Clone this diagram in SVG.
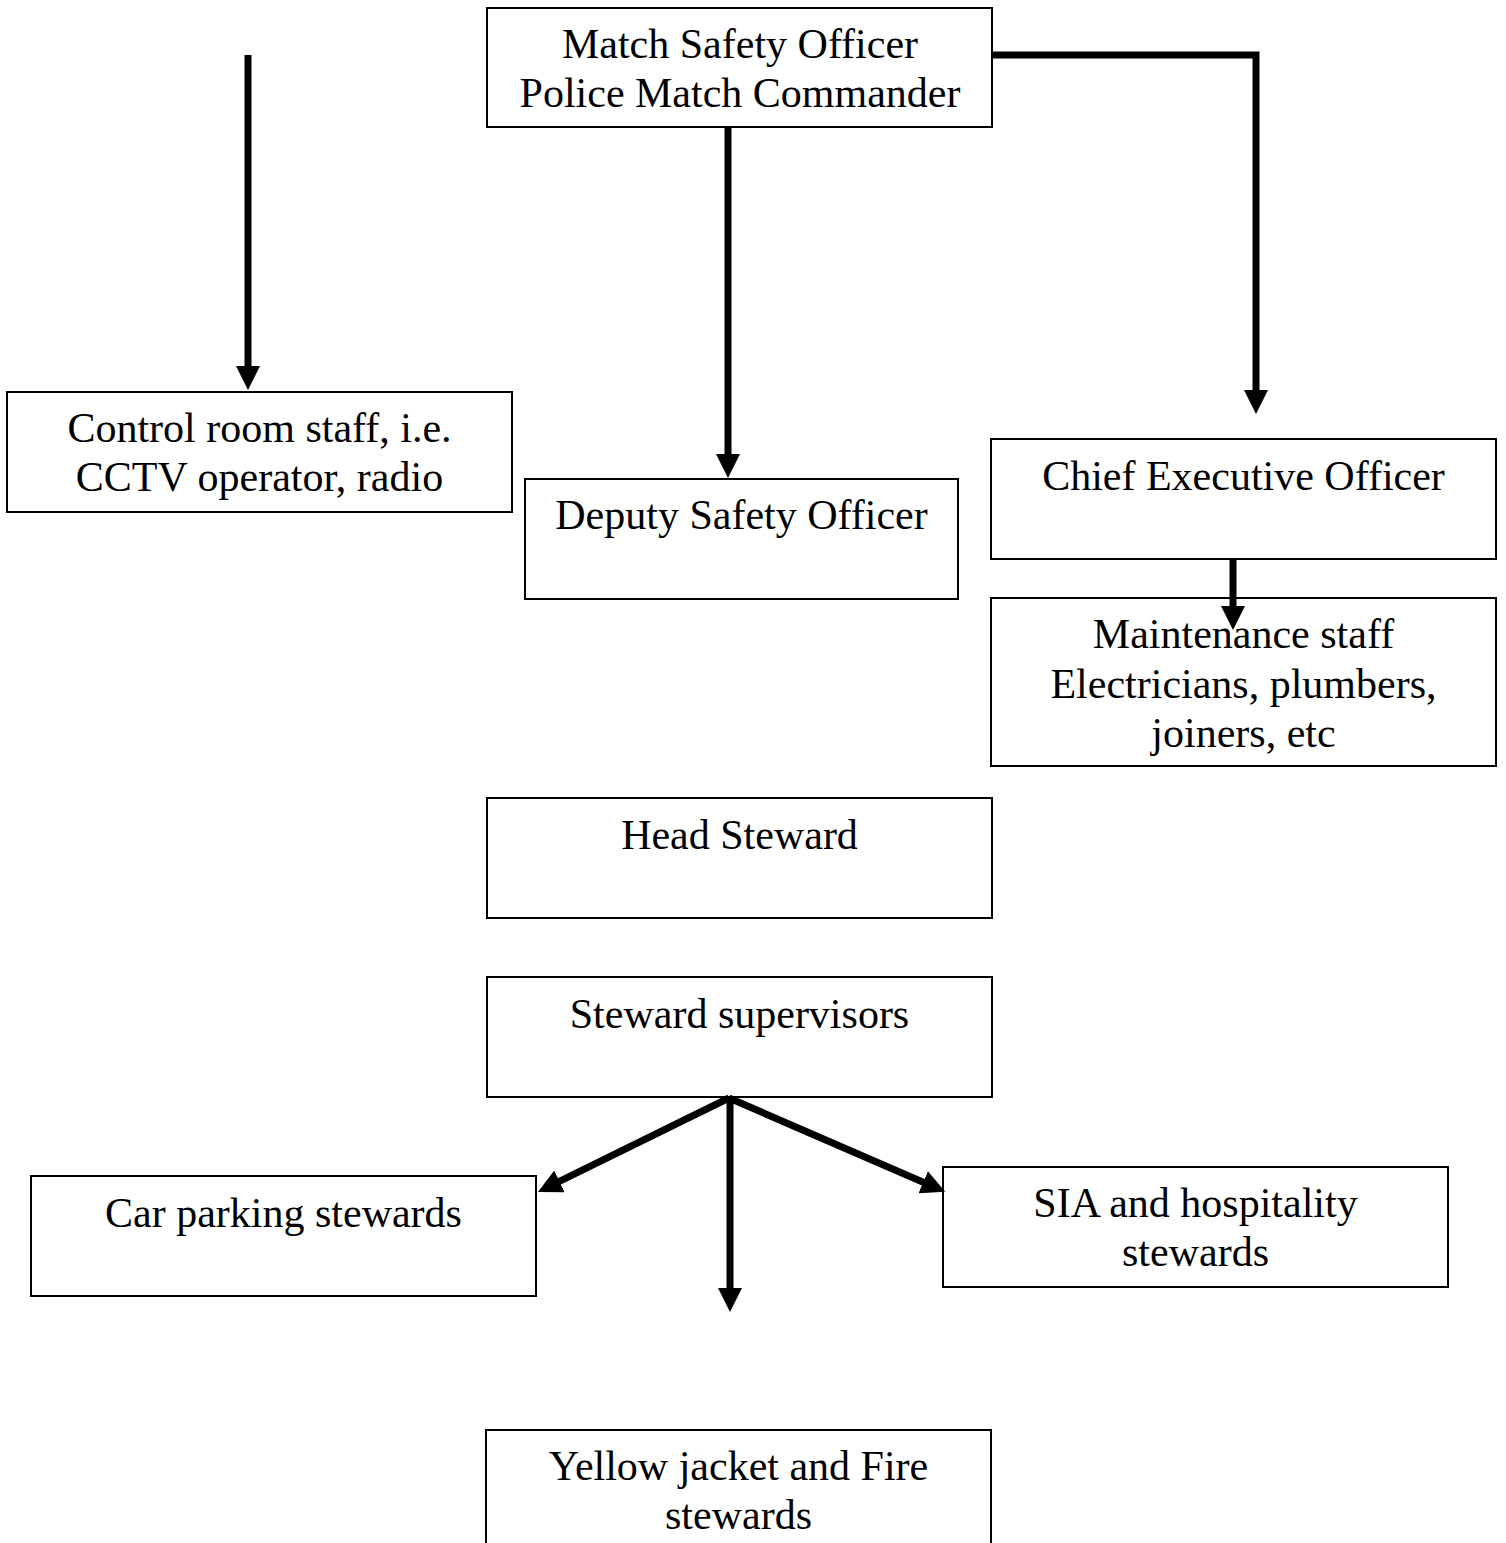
<svg xmlns="http://www.w3.org/2000/svg" width="1506" height="1543" viewBox="0 0 1506 1543">
<style>
.box{fill:#fff;stroke:#000;stroke-width:2}
.t{font-family:"Liberation Serif","Times New Roman",serif;font-size:42px;fill:#000;text-anchor:middle}
.c{fill:none;stroke:#000;stroke-width:7;marker-end:url(#ah)}
</style>
<defs>
<marker id="ah" markerUnits="userSpaceOnUse" markerWidth="24" markerHeight="24" refX="12" refY="12" orient="auto" viewBox="0 0 24 24">
<path d="M0,0 L24,12 L0,24 z" fill="#000"/>
</marker>
</defs>
<rect width="1506" height="1543" fill="#fff"/>
<g id="n-mso">
<rect class="box" x="487" y="8" width="505" height="119"/>
<text class="t" x="740" y="58">Match Safety Officer</text>
<text class="t" x="740" y="107">Police Match Commander</text>
</g>
<g id="n-control">
<rect class="box" x="7" y="392" width="505" height="120"/>
<text class="t" x="259.5" y="442">Control room staff, i.e.</text>
<text class="t" x="259.5" y="491">CCTV operator, radio</text>
</g>
<g id="n-deputy">
<rect class="box" x="525" y="479" width="433" height="120"/>
<text class="t" x="741.5" y="529">Deputy Safety Officer</text>
</g>
<g id="n-ceo">
<rect class="box" x="991" y="439" width="505" height="120"/>
<text class="t" x="1243.5" y="490">Chief Executive Officer</text>
</g>
<g id="n-maint">
<rect class="box" x="991" y="598" width="505" height="168"/>
<text class="t" x="1243.5" y="648">Maintenance staff</text>
<text class="t" x="1243.5" y="698">Electricians, plumbers,</text>
<text class="t" x="1243.5" y="747">joiners, etc</text>
</g>
<g id="n-head">
<rect class="box" x="487" y="798" width="505" height="120"/>
<text class="t" x="739.5" y="849">Head Steward</text>
</g>
<g id="n-supervisors">
<rect class="box" x="487" y="977" width="505" height="120"/>
<text class="t" x="739.5" y="1028">Steward supervisors</text>
</g>
<g id="n-car">
<rect class="box" x="31" y="1176" width="505" height="120"/>
<text class="t" x="283.5" y="1227">Car parking stewards</text>
</g>
<g id="n-sia">
<rect class="box" x="943" y="1167" width="505" height="120"/>
<text class="t" x="1195.5" y="1217">SIA and hospitality</text>
<text class="t" x="1195.5" y="1266">stewards</text>
</g>
<g id="n-yellow">
<rect class="box" x="486" y="1430" width="505" height="130"/>
<text class="t" x="738.5" y="1480">Yellow jacket and Fire</text>
<text class="t" x="738.5" y="1529">stewards</text>
</g>
<g id="connectors">
<path class="c" d="M248,55 L248,378"/>
<path class="c" d="M728,128 L728,466"/>
<path class="c" d="M993,55 L1256,55 L1256,402"/>
<path class="c" d="M1233,560 L1233,618"/>
<path class="c" d="M730,1098 L730,1300"/>
<path class="c" d="M729,1098 L548.7,1186.7"/>
<path class="c" d="M729,1098 L934.2,1187"/>
</g>
</svg>
